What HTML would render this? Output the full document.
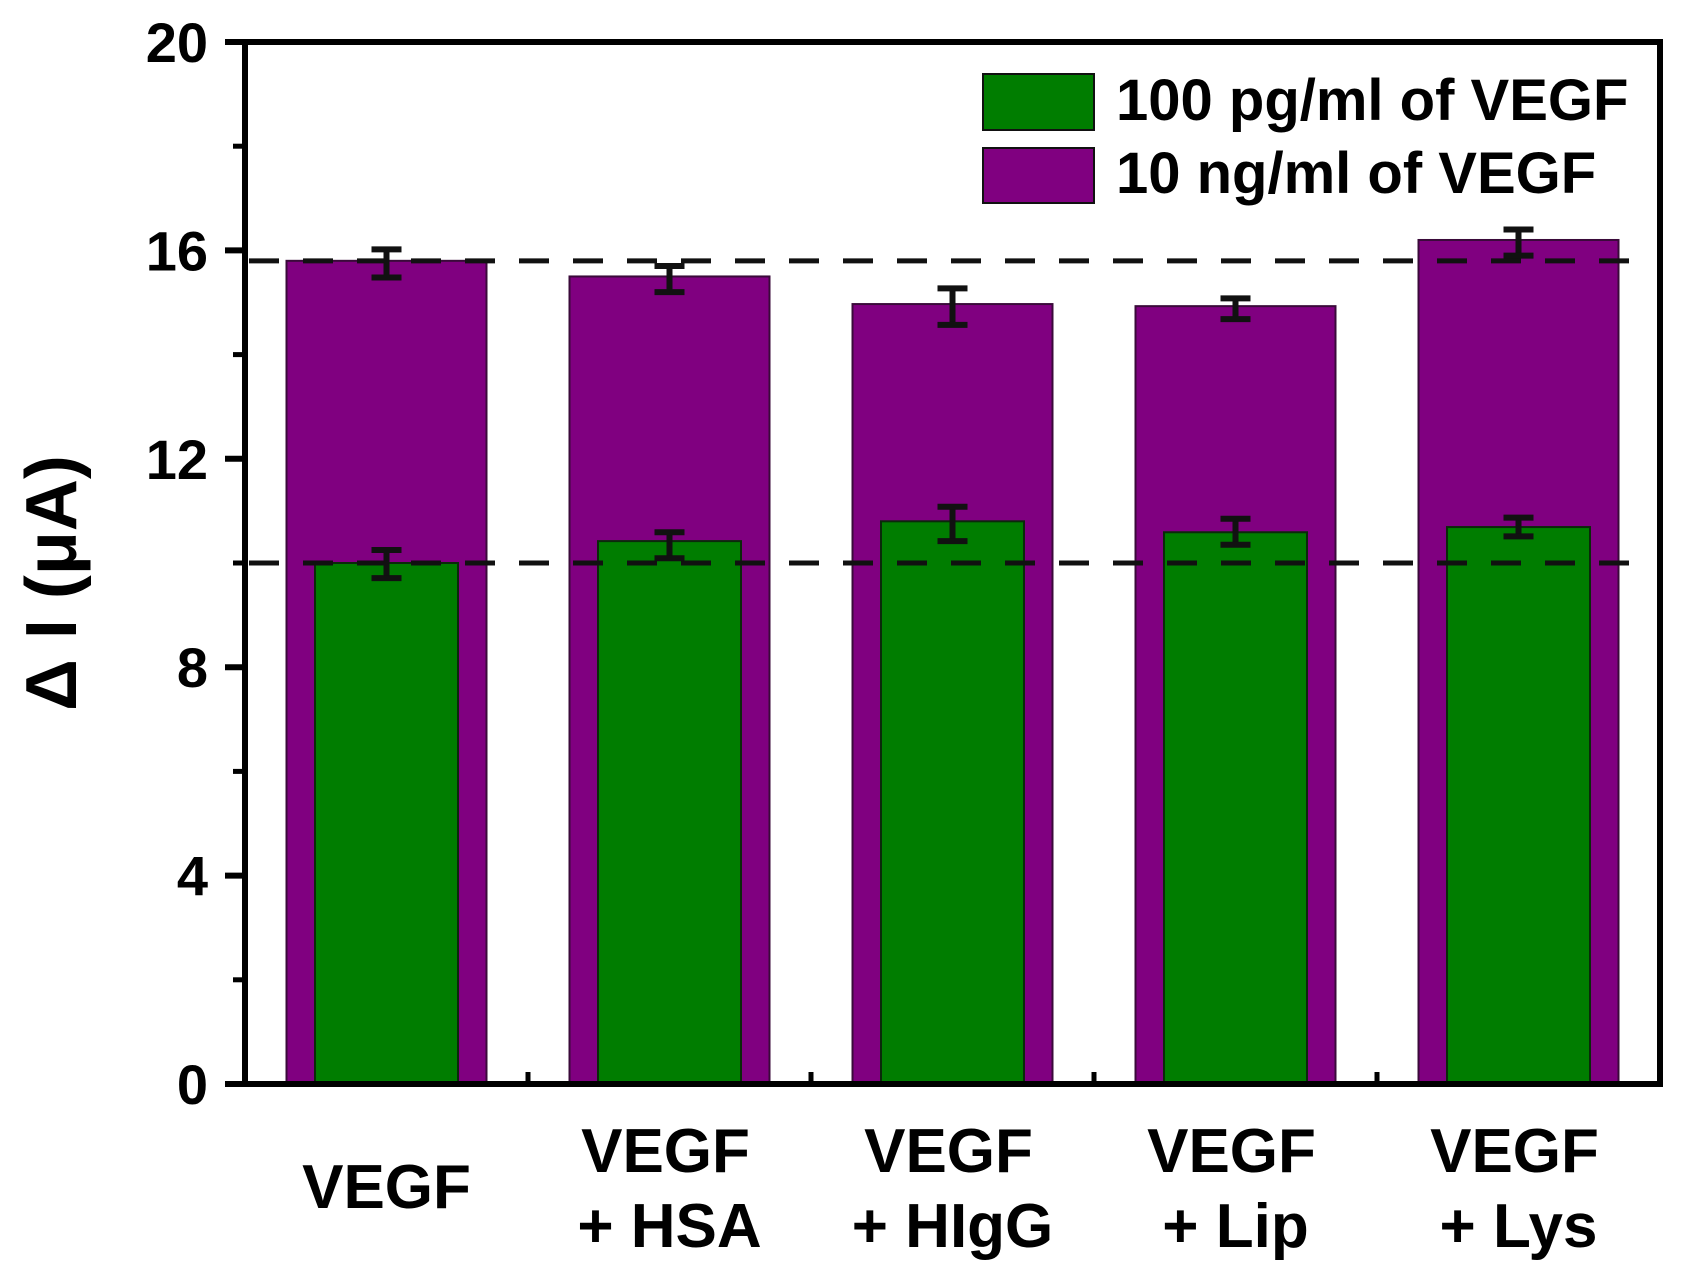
<!DOCTYPE html>
<html><head><meta charset="utf-8"><style>
html,body{margin:0;padding:0;background:#fff;}
svg{display:block;font-family:"Liberation Sans",Arial,sans-serif;font-weight:bold;}
</style></head><body>
<svg id="chart" width="1688" height="1276" viewBox="0 0 1688 1276" xmlns="http://www.w3.org/2000/svg"></svg>
<script>
const categories = [["VEGF"], ["VEGF", "+ HSA"], ["VEGF", "+ HIgG"], ["VEGF", "+ Lip"], ["VEGF", "+ Lys"]];
const highValues = [15.8, 15.5, 14.97, 14.93, 16.2];
const highErrors = [0.27, 0.25, 0.35, 0.2, 0.25];
const lowValues = [10.0, 10.42, 10.8, 10.59, 10.69];
const lowErrors = [0.27, 0.25, 0.33, 0.25, 0.18];
const lowCenters = [9.98, 10.34, 10.75, 10.6, 10.69];
const highCenters = [15.75, 15.45, 14.92, 14.88, 16.15];
const yTicks = [0, 4, 8, 12, 16, 20];
const refLines = [15.8, 10.0];

const svg = document.getElementById('chart');
const NS = 'http://www.w3.org/2000/svg';
const L = 245, R = 1660, T = 42, B = 1084;
const yMin = 0, yMax = 20;
const xMin = -0.5, xMax = 4.5;
const y = v => B - (v - yMin) / (yMax - yMin) * (B - T);
const x = i => L + (i - xMin) / (xMax - xMin) * (R - L);
const PURPLE_W = 200, GREEN_W = 143;

function mk(tag, attrs, parent) {
  const e = document.createElementNS(NS, tag);
  for (const k in attrs) e.setAttribute(k, attrs[k]);
  (parent || svg).appendChild(e);
  return e;
}

categories.forEach((c, i) => {
  const ph = mk('rect', {x: x(i) - PURPLE_W / 2, y: y(highValues[i]), width: PURPLE_W, height: y(0) - y(highValues[i]), fill: '#800080', stroke: '#3a0a3a', 'stroke-width': 2});
  
  
  const gh = mk('rect', {x: x(i) - GREEN_W / 2, y: y(lowValues[i]), width: GREEN_W, height: y(0) - y(lowValues[i]), fill: '#007d00', stroke: '#0a2a0a', 'stroke-width': 2});
  
  
});

refLines.forEach((v, k) => {
  const l = mk('line', {x1: L + 4, x2: R - 8, y1: y(v), y2: y(v), stroke: '#111', 'stroke-width': 5, 'stroke-dasharray': '30 24'});
  
  
});

function errBar(cx, c, e, name) {
  const g = mk('g', {stroke: '#111', 'stroke-width': 6});
  
  
  mk('line', {x1: cx, x2: cx, y1: y(c + e), y2: y(c - e)}, g);
  mk('line', {x1: cx - 15, x2: cx + 15, y1: y(c + e), y2: y(c + e)}, g);
  mk('line', {x1: cx - 15, x2: cx + 15, y1: y(c - e), y2: y(c - e)}, g);
}
categories.forEach((c, i) => {
  errBar(x(i), highCenters[i], highErrors[i], 'error-bar-10ng-' + i);
  errBar(x(i), lowCenters[i], lowErrors[i], 'error-bar-100pg-' + i);
});

const frame = mk('rect', {x: L, y: T, width: R - L, height: B - T, fill: 'none', stroke: '#000', 'stroke-width': 6});



yTicks.forEach(v => {
  const t = mk('line', {x1: L - 20, x2: L, y1: y(v), y2: y(v), stroke: '#000', 'stroke-width': 6});
  
  
  const lb = mk('text', {x: 208, y: y(v) + 20, 'text-anchor': 'end', 'font-size': 56});
  lb.textContent = v;
  
  
});
for (let k = 0; k < yTicks.length - 1; k++) {
  const v = (yTicks[k] + yTicks[k + 1]) / 2;
  const t = mk('line', {x1: L - 12, x2: L, y1: y(v), y2: y(v), stroke: '#000', 'stroke-width': 5});
  
  
}
for (let i = 0; i < categories.length - 1; i++) {
  const t = mk('line', {x1: x(i + 0.5), x2: x(i + 0.5), y1: B, y2: B - 12, stroke: '#000', 'stroke-width': 5});
  
  
}

categories.forEach((c, i) => {
  const t = mk('text', {'text-anchor': 'middle', 'font-size': 62});
  
  
  if (c.length === 1) {
    const s = mk('tspan', {x: x(i), y: 1208}, t); s.textContent = c[0];
  } else {
    const s1 = mk('tspan', {x: x(i) - 4, y: 1172}, t); s1.textContent = c[0];
    const s2 = mk('tspan', {x: x(i), y: 1247}, t); s2.textContent = c[1];
  }
});

const yt = mk('text', {x: 0, y: 0, 'text-anchor': 'middle', 'font-size': 72, transform: 'translate(76,583) rotate(-90)'});
yt.textContent = 'Δ I (μA)';



const lg = mk('g', {});


const e1 = mk('g', {}, lg);


mk('rect', {x: 983, y: 74, width: 111, height: 56, fill: '#007d00', stroke: '#111', 'stroke-width': 2}, e1);
const t1 = mk('text', {x: 1116, y: 120, 'font-size': 58}, e1); t1.textContent = '100 pg/ml of VEGF';
const e2 = mk('g', {}, lg);


mk('rect', {x: 983, y: 148, width: 111, height: 55, fill: '#800080', stroke: '#111', 'stroke-width': 2}, e2);
const t2 = mk('text', {x: 1116, y: 193, 'font-size': 58}, e2); t2.textContent = '10 ng/ml of VEGF';
</script>
</body></html>
